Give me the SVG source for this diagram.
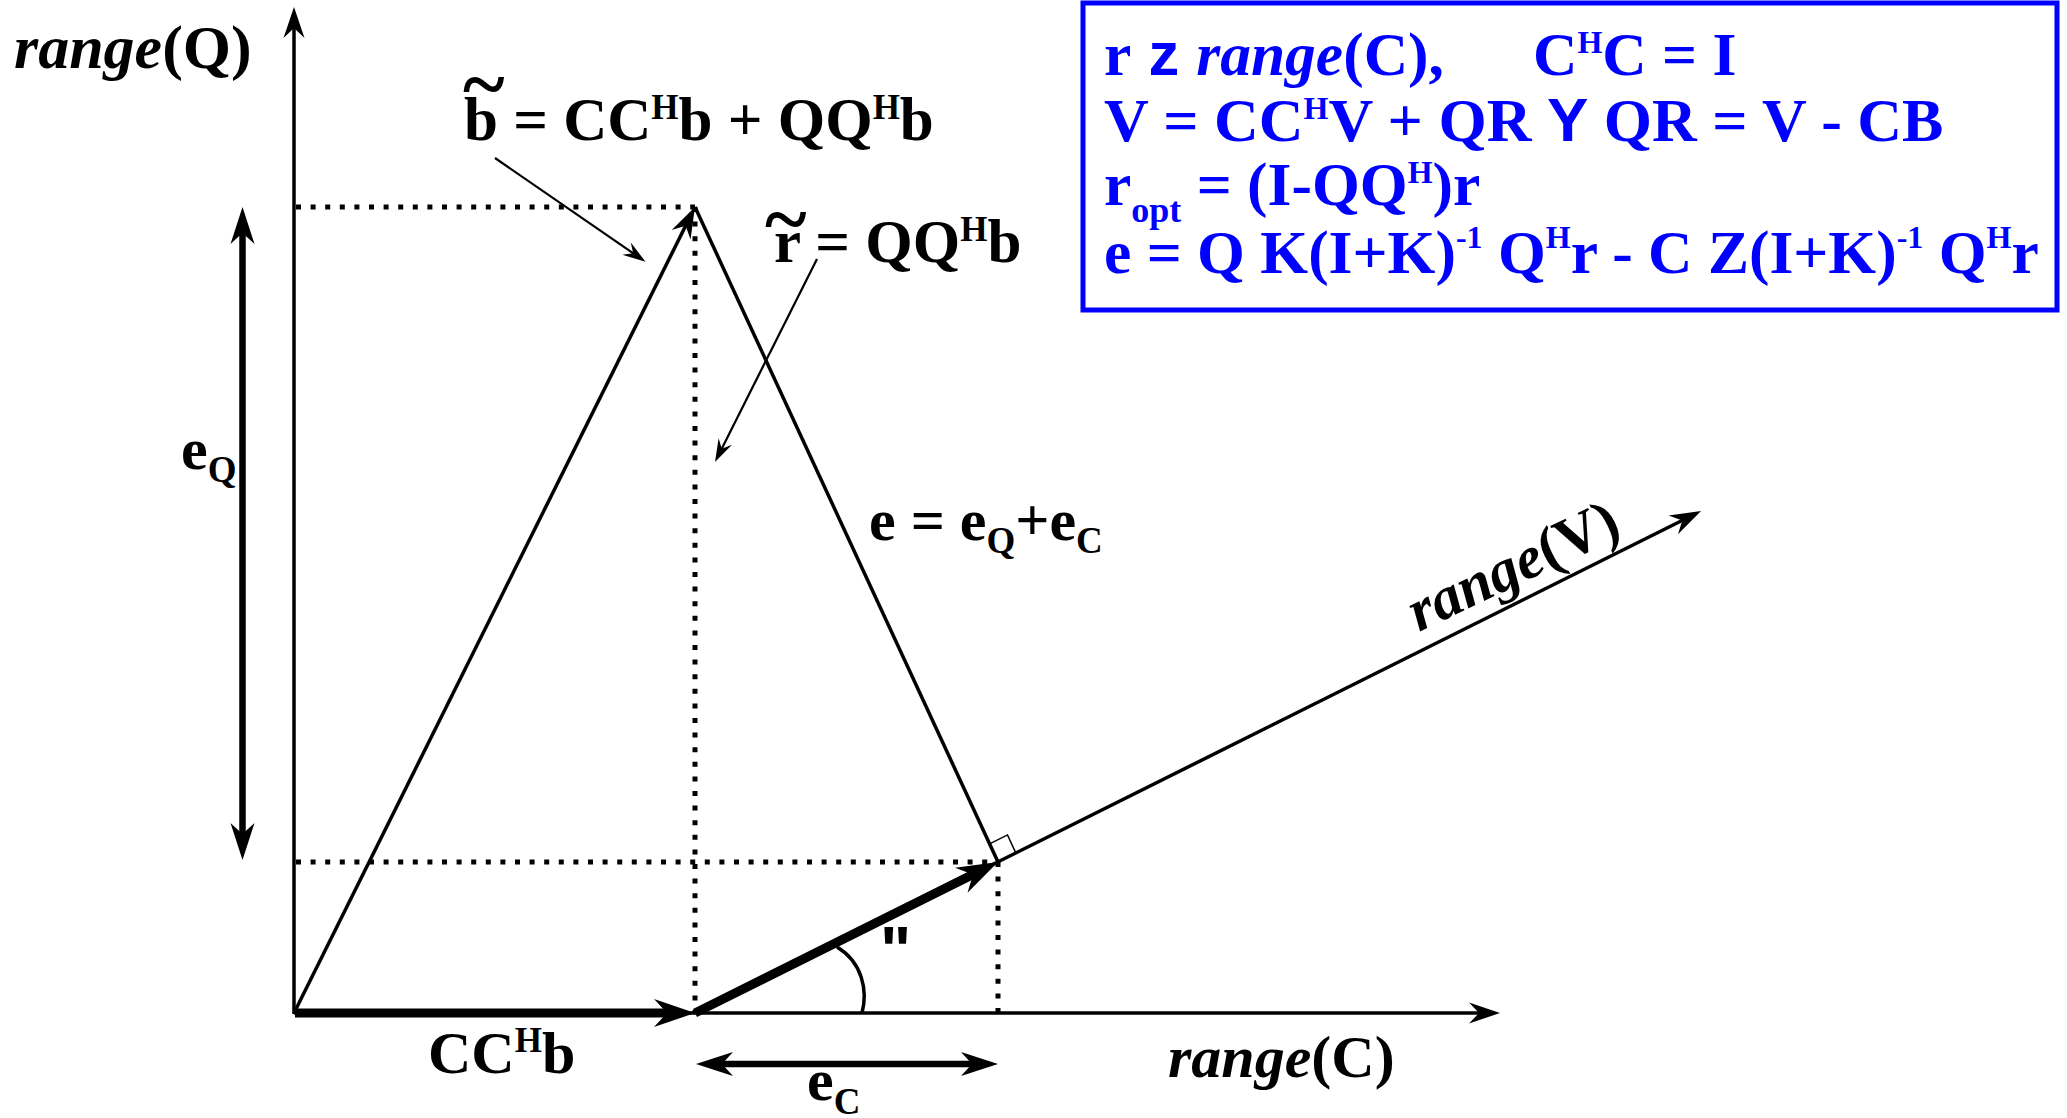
<svg xmlns="http://www.w3.org/2000/svg" width="2067" height="1118" viewBox="0 0 2067 1118">
<style>
.t{font-family:"Liberation Serif","Times New Roman",serif;font-weight:bold;font-size:60px;fill:#000}
.i{font-style:italic}
.s{font-family:"Liberation Sans",Arial,sans-serif;font-weight:bold}
.sup{font-size:35px}
.tl{font-size:80px}
.bl{fill:#0000ff;font-size:61.5px}
.bl .sup{font-size:32px}
.ln{stroke:#000;fill:none;stroke-width:3.5}
.thick{stroke:#000;fill:none;stroke-width:9}
.mid{stroke:#000;fill:none;stroke-width:6.5}
.ann{stroke:#000;fill:none;stroke-width:2.2}
.dot{stroke:#000;fill:none;stroke-width:5;stroke-dasharray:5 9.6}
</style>
<defs>
<marker id="ah" markerUnits="userSpaceOnUse" orient="auto" overflow="visible" refX="0" refY="0" markerWidth="1" markerHeight="1"><path d="M20,0 L-21,-14 L-8,0 L-21,14 Z" fill="#000"/></marker>
<marker id="am" markerUnits="userSpaceOnUse" orient="auto-start-reverse" overflow="visible" refX="0" refY="0" markerWidth="1" markerHeight="1"><path d="M18,0 L-19,-12 L-8,0 L-19,12 Z" fill="#000"/></marker>
<marker id="at" markerUnits="userSpaceOnUse" orient="auto" overflow="visible" refX="0" refY="0" markerWidth="1" markerHeight="1"><path d="M10,0 L-21,-10.5 L-11,0 L-21,10.5 Z" fill="#000"/></marker>
<marker id="as" markerUnits="userSpaceOnUse" orient="auto" overflow="visible" refX="0" refY="0" markerWidth="1" markerHeight="1"><path d="M8,0 L-15,-7.5 L-7,0 L-15,7.5 Z" fill="#000"/></marker>
</defs>
<rect width="2067" height="1118" fill="#fff"/>
<g id="connectors">
<line class="dot" x1="296" y1="207" x2="695" y2="207"/>
<line class="dot" x1="695" y1="207" x2="695" y2="1013"/>
<line class="dot" x1="296" y1="862" x2="998" y2="862"/>
<line class="dot" x1="998" y1="862" x2="998" y2="1013"/>
<line class="ln" x1="294" y1="1014" x2="294" y2="17" marker-end="url(#at)"/>
<line class="ln" x1="294" y1="1013" x2="1490" y2="1013" marker-end="url(#at)"/>
<line class="ln" x1="695" y1="1013" x2="1692.1" y2="515.5" marker-end="url(#at)"/>
<line class="ln" x1="294" y1="1013" x2="690.5" y2="216" marker-end="url(#at)"/>
<line class="ln" x1="695" y1="207" x2="998" y2="862"/>
<line class="thick" x1="295" y1="1013" x2="675" y2="1013" marker-end="url(#ah)"/>
<line class="thick" x1="695" y1="1013" x2="980.1" y2="870.9" marker-end="url(#ah)"/>
<line class="mid" x1="242.5" y1="225" x2="242.5" y2="842" marker-start="url(#am)" marker-end="url(#am)"/>
<line class="mid" x1="714" y1="1064" x2="980" y2="1064" marker-start="url(#am)" marker-end="url(#am)"/>
<line class="ann" x1="495" y1="158" x2="638.9" y2="257.2" marker-end="url(#as)"/>
<line class="ann" x1="817" y1="259" x2="718.6" y2="454.9" marker-end="url(#as)"/>
<polyline points="989.6,843.8 1007.5,834.9 1015.9,853.1" fill="none" stroke="#000" stroke-width="1.5"/>
<path class="ln" d="M862,1013 C868,990 862,962 837,947"/>
</g>
<g id="label-rangeQ"><text class="t" x="14" y="68" style="font-size:62px"><tspan class="i">range</tspan>(Q)</text></g>
<g id="label-rangeC"><text class="t" x="1168" y="1077"><tspan class="i">range</tspan>(C)</text></g>
<g id="label-rangeV"><text class="t" transform="translate(1419,632) rotate(-25.5)"><tspan class="i">range</tspan>(V)</text></g>
<g id="label-btilde">
<text class="t" style="font-size:61px"><tspan class="tl" x="463" y="111">~</tspan><tspan x="464" y="140">b = CC</tspan><tspan class="sup" dy="-21">H</tspan><tspan dy="21">b + QQ</tspan><tspan class="sup" dy="-21">H</tspan><tspan dy="21">b</tspan></text>
</g>
<g id="label-rtilde">
<text class="t" style="font-size:61px"><tspan class="tl" x="765" y="246">~</tspan><tspan x="774" y="262">r = QQ</tspan><tspan class="sup" dy="-21">H</tspan><tspan dy="21">b</tspan></text>
</g>
<g id="label-e"><text class="t" x="869" y="540">e = e<tspan dy="13" style="font-size:37px">Q</tspan><tspan dy="-13">+e</tspan><tspan dy="13" style="font-size:37px">C</tspan></text></g>
<g id="label-eQ"><text class="t" x="181" y="469">e<tspan dy="13" style="font-size:37px">Q</tspan></text></g>
<g id="label-eC"><text class="t" x="807" y="1100">e<tspan dy="14" style="font-size:37px">C</tspan></text></g>
<g id="label-CCHb"><text class="t" x="428" y="1073">CC<tspan class="sup" dy="-21">H</tspan><tspan dy="21">b</tspan></text></g>
<g id="label-angle"><text class="t s" x="880" y="973" style="font-size:66px">"</text></g>
<g id="box">
<rect x="1083" y="3" width="974" height="307" fill="none" stroke="#0000ff" stroke-width="5"/>
<text class="t bl" x="1104" y="75">r<tspan class="s"> z </tspan><tspan class="i">range</tspan>(C),</text>
<text class="t bl" x="1533" y="75">C<tspan class="sup" dy="-22">H</tspan><tspan dy="22">C = I</tspan></text>
<text class="t bl" x="1104" y="141" style="font-size:62px">V = CC<tspan class="sup" dy="-22">H</tspan><tspan dy="22">V + QR </tspan><tspan class="s">Y</tspan> QR = V - CB</text>
<text class="t bl" x="1104" y="205">r<tspan dy="17" style="font-size:36px">opt</tspan><tspan dy="-17"> = (I-QQ</tspan><tspan class="sup" dy="-22">H</tspan><tspan dy="22">)r</tspan></text>
<text class="t bl" x="1104" y="273">e = Q K(I+K)<tspan class="sup" dy="-25">-1</tspan><tspan dy="25"> Q</tspan><tspan class="sup" dy="-25">H</tspan><tspan dy="25">r - C Z(I+K)</tspan><tspan class="sup" dy="-25">-1</tspan><tspan dy="25"> Q</tspan><tspan class="sup" dy="-25">H</tspan><tspan dy="25">r</tspan></text>
</g>
</svg>
